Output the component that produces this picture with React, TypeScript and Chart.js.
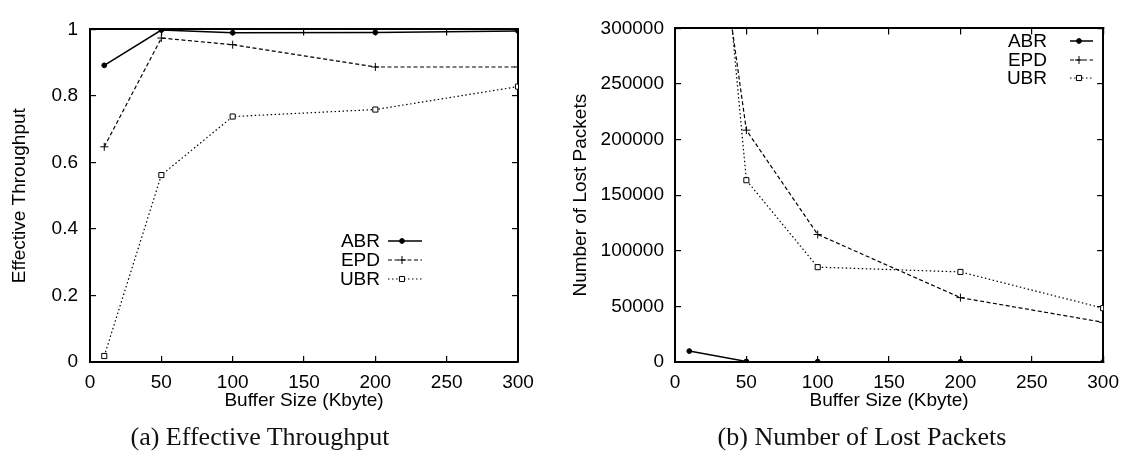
import React, { useEffect, useRef } from 'react';
import { Chart, registerables } from 'chart.js';
import { drawPoint } from 'chart.js/helpers';

Chart.register(...registerables);

// ---------------- data ----------------
const bufferSizes = [10, 50, 100, 200, 300];

const thrABR = [0.892, 0.998, 0.99, 0.991, 0.995];
const thrEPD = [0.647, 0.974, 0.954, 0.887, 0.887];
const thrUBR = [0.018, 0.562, 0.738, 0.759, 0.828];

const lostABR = [9800, 500, 300, 200, 0];
const lostEPD = [576000, 208500, 114700, 57900, 35700];
const lostUBR = [711000, 163500, 85300, 81000, 48400];

const seriesNames = ['ABR', 'EPD', 'UBR'];
const xTitle = 'Buffer Size (Kbyte)';
const yTitleA = 'Effective Throughput';
const yTitleB = 'Number of Lost Packets';
const captionA = '(a) Effective Throughput';
const captionB = '(b) Number of Lost Packets';

// ---------------- styles ----------------
const SANS = '"Liberation Sans", Arial, Helvetica, sans-serif';
const SERIF = '"Liberation Serif", "Times New Roman", serif';
const INK = '#000';

const seriesStyles = [
  { borderDash: [] as number[], borderWidth: 1.5, pointStyle: 'circle', pointRadius: 2.4, pointBackgroundColor: INK, pointBorderWidth: 1 },
  { borderDash: [4, 2.5], borderWidth: 1.2, pointStyle: 'cross', pointRadius: 4, pointBackgroundColor: INK, pointBorderWidth: 1 },
  { borderDash: [1.5, 2.5], borderWidth: 1.2, pointStyle: 'rect', pointRadius: 3.6, pointBackgroundColor: '#fff', pointBorderWidth: 1 },
];

const insideKey = {
  id: 'insideKey',
  afterDatasetsDraw(chart: any, _args: any, opts: any) {
    const { ctx } = chart;
    ctx.save();
    chart.data.datasets.forEach((ds: any, i: number) => {
      const y = opts.rows[i];
      ctx.font = `19px ${SANS}`;
      ctx.fillStyle = INK;
      ctx.textAlign = 'right';
      ctx.textBaseline = 'middle';
      ctx.fillText(ds.label, opts.textRight, y + 1);
      ctx.beginPath();
      ctx.setLineDash(ds.borderDash || []);
      ctx.lineWidth = ds.borderWidth;
      ctx.strokeStyle = ds.borderColor;
      ctx.moveTo(opts.sampleStart, y);
      ctx.lineTo(opts.sampleEnd, y);
      ctx.stroke();
      ctx.setLineDash([]);
      ctx.fillStyle = ds.pointBackgroundColor;
      ctx.strokeStyle = ds.pointBorderColor;
      ctx.lineWidth = ds.pointBorderWidth;
      drawPoint(ctx, { pointStyle: ds.pointStyle, radius: ds.pointRadius, borderWidth: ds.pointBorderWidth, rotation: 0 } as any, opts.markerX, y);
    });
    ctx.restore();
  },
};

function frameAxis(extra: any) {
  return {
    type: 'linear',
    grid: { drawOnChartArea: false, drawTicks: true, tickLength: -6, color: INK, lineWidth: 1.2 },
    border: { display: true, color: INK, width: 2 },
    ...extra,
  };
}

function makeConfig(p: {
  values: number[][];
  yMax: number;
  yStep: number;
  yTitle: string;
  yWidth: number;
  yPad: number;
  yTitlePad: number;
  padRight: number;
  key: any;
}) {
  const datasets = p.values.map((vals, i) => ({
    label: seriesNames[i],
    data: bufferSizes.map((x, j) => ({ x, y: vals[j] })),
    borderColor: INK,
    pointBorderColor: INK,
    fill: false,
    tension: 0,
    ...seriesStyles[i],
  }));
  const tickFont = { family: SANS, size: 19 };
  return {
    type: 'line',
    data: { datasets },
    options: {
      animation: false,
      responsive: false,
      devicePixelRatio: 1,
      events: [],
      layout: { padding: { left: 0, top: 15, right: p.padRight, bottom: 37 } },
      scales: {
        x: frameAxis({
          position: 'bottom',
          min: 0,
          max: 300,
          ticks: { stepSize: 50, padding: 15, font: tickFont, color: INK, maxRotation: 0 },
          title: { display: true, text: xTitle, font: tickFont, color: INK, padding: { top: 0, bottom: 10 } },
          afterFit: (s: any) => { s.height = 60; },
        }),
        x2: frameAxis({
          position: 'top',
          min: 0,
          max: 300,
          ticks: { stepSize: 50, display: false },
          afterFit: (s: any) => { s.height = 0; },
        }),
        y: frameAxis({
          position: 'left',
          min: 0,
          max: p.yMax,
          ticks: { stepSize: p.yStep, padding: p.yPad, font: tickFont, color: INK, callback: (v: any) => String(v) },
          title: { display: true, text: p.yTitle, font: tickFont, color: INK, padding: { top: p.yTitlePad, bottom: 0 } },
          afterFit: (s: any) => { s.width = p.yWidth; },
        }),
        y2: frameAxis({
          position: 'right',
          min: 0,
          max: p.yMax,
          ticks: { stepSize: p.yStep, display: false },
          afterFit: (s: any) => { s.width = 0; },
        }),
      },
      plugins: {
        legend: { display: false },
        tooltip: { enabled: false },
        insideKey: p.key,
      },
    },
    plugins: [insideKey],
  } as any;
}

function Plot({ config, width, left }: { config: any; width: number; left: number }) {
  const ref = useRef<HTMLCanvasElement>(null);
  useEffect(() => {
    if (!ref.current) return;
    const chart = new Chart(ref.current, config);
    return () => chart.destroy();
  }, [config]);
  return (
    <canvas
      ref={ref}
      width={width}
      height={459}
      style={{ position: 'absolute', left, top: 0, width, height: 459 }}
    />
  );
}

const configA = makeConfig({
  values: [thrABR, thrEPD, thrUBR],
  yMax: 1,
  yStep: 0.2,
  yTitle: yTitleA,
  yWidth: 90,
  yPad: 18,
  yTitlePad: 8,
  padRight: 42,
  key: { textRight: 380, sampleStart: 388, sampleEnd: 422, markerX: 402, rows: [241, 260, 279] },
});

const configB = makeConfig({
  values: [lostABR, lostEPD, lostUBR],
  yMax: 300000,
  yStep: 50000,
  yTitle: yTitleB,
  yWidth: 115,
  yPad: 17,
  yTitlePad: 9,
  padRight: 25,
  key: { textRight: 487, sampleStart: 510, sampleEnd: 533, markerX: 519, rows: [41, 60, 78] },
});

const captionStyle: React.CSSProperties = {
  position: 'absolute',
  top: 422,
  width: 400,
  textAlign: 'center',
  fontFamily: SERIF,
  fontSize: 26,
  lineHeight: '30px',
  color: '#111',
  whiteSpace: 'nowrap',
};

export default function App() {
  return (
    <div style={{ position: 'absolute', left: 0, top: 0, width: 1134, height: 459, background: '#fff', overflow: 'hidden' }}>
      <Plot config={configA} width={560} left={0} />
      <Plot config={configB} width={574} left={560} />
      <div style={{ ...captionStyle, left: 260 - 200 }}>{captionA}</div>
      <div style={{ ...captionStyle, left: 862 - 200 }}>{captionB}</div>
    </div>
  );
}
